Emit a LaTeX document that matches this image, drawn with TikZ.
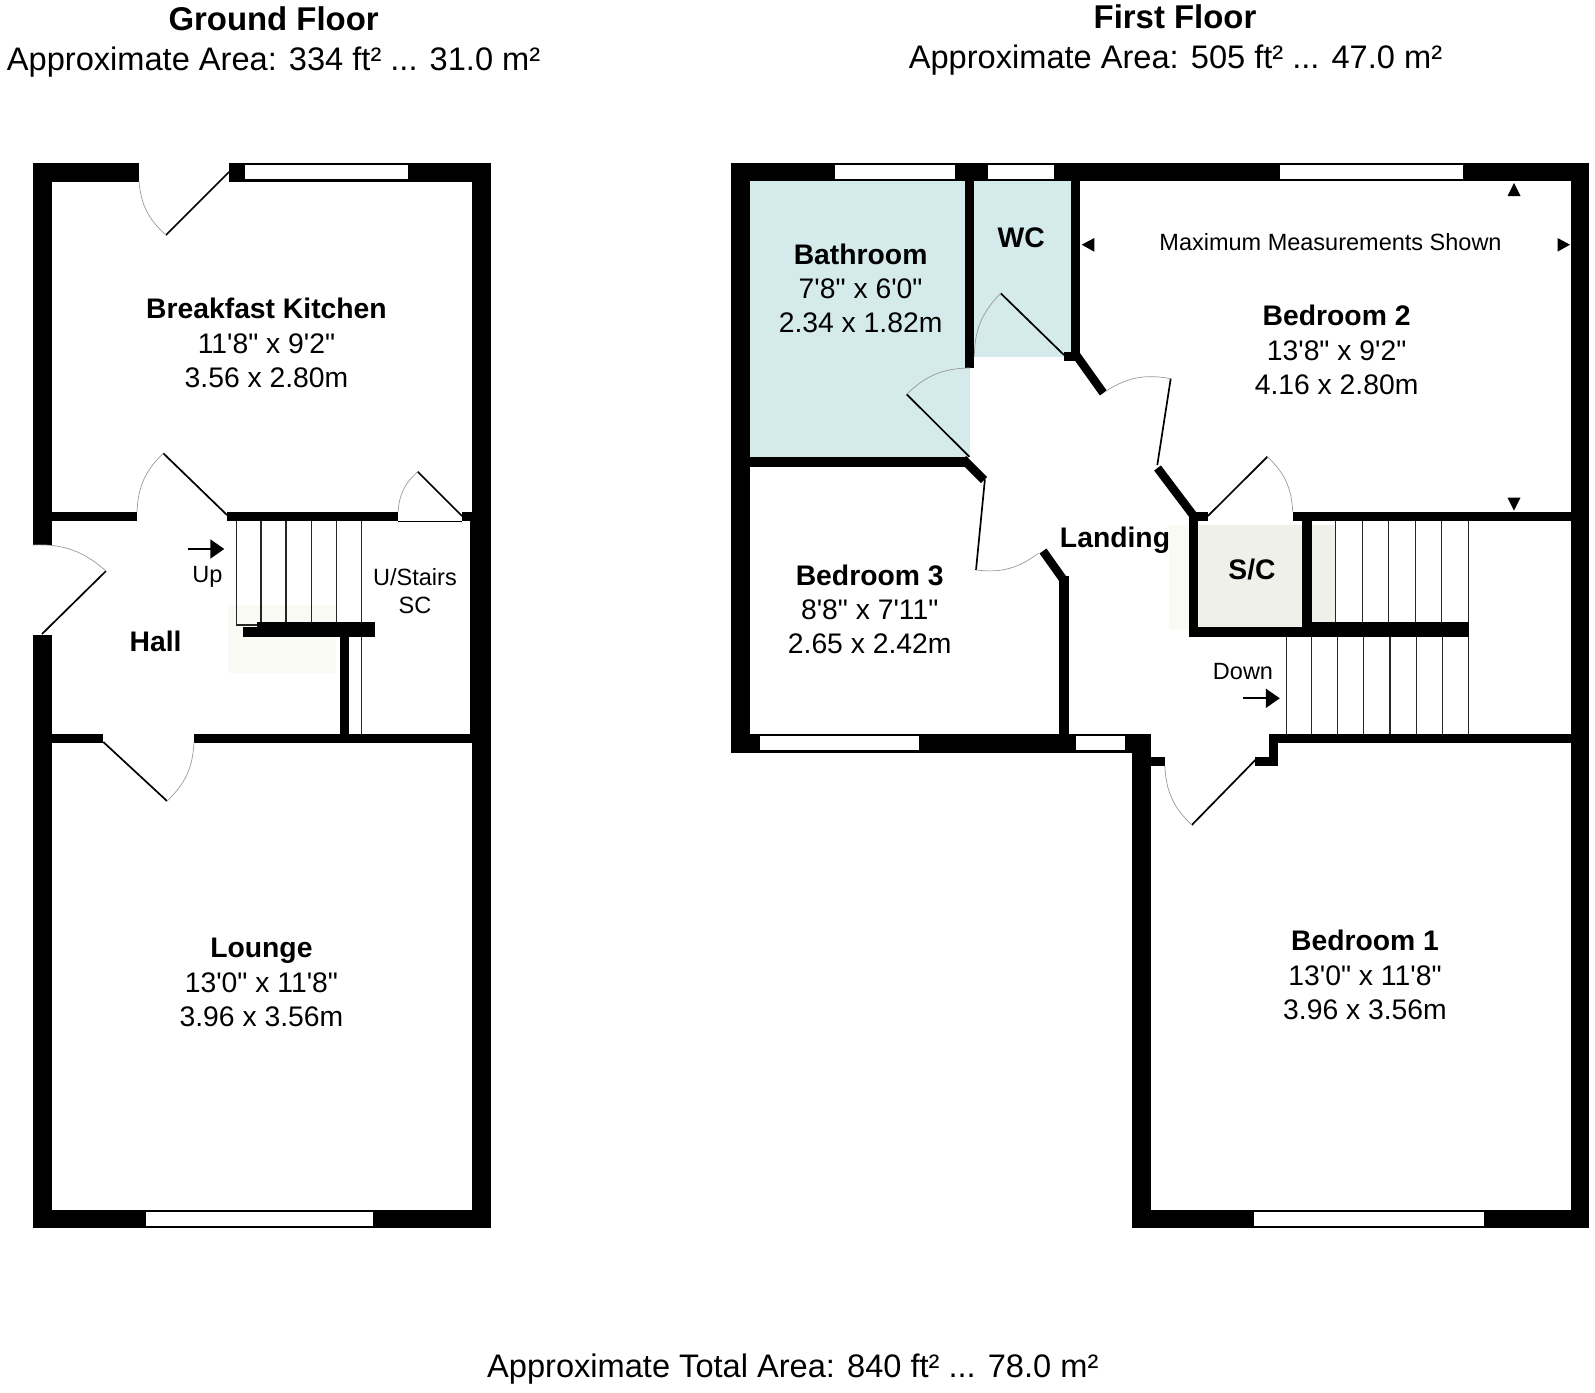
\documentclass[tikz,border=0pt]{standalone}
\usepackage{fontspec}
\newfontfamily\planfont{Liberation Sans}
\usetikzlibrary{arrows.meta}
\definecolor{bathblue}{HTML}{D4EAEB}
\definecolor{markpale}{HTML}{FAFAF5}
\definecolor{markgrey}{HTML}{F0F0EB}
\tikzset{x=1pt,y=-1pt,
  wall/.style = {fill=black},
  window/.style = {fill=white},
  diagwall/.style = {draw=black,line width=8.5pt},
  leaf/.style = {draw=black,line width=1.7pt},
  swing/.style = {draw=gray!80,line width=0.7pt},
  tread/.style = {draw=black!85,line width=1.3pt},
  flow/.style = {draw=black,line width=2pt,-{Triangle[length=14pt,width=19pt]}},
  title/.style = {font=\planfont\bfseries\fontsize{32.9}{38}\selectfont},
  areatext/.style = {font=\planfont\fontsize{32.6}{38}\selectfont},
  room/.style = {font=\planfont\fontsize{28.3}{34.3}\selectfont,align=center},
  note/.style = {font=\planfont\fontsize{23.5}{28}\selectfont,align=center}}
\begin{document}
\begin{tikzpicture}
\useasboundingbox (0,0) rectangle (1595,1392);
% pale patches
\fill[markpale] (228,605) rectangle (336,673);
\fill[markpale] (1169,525) rectangle (1198,630);
\fill[markgrey] (1198,525) rectangle (1336,627);
% bathroom and wc
\fill[bathblue] (750,181) rectangle (970,457);
\fill[bathblue] (974,181) rectangle (1071,357);
% ground floor walls
\fill[wall] (33,163) rectangle (52,545);
\fill[wall] (33,635) rectangle (52,1228);
\fill[wall] (33,163) rectangle (139,181.5);
\fill[wall] (229,163) rectangle (491,181.5);
\fill[wall] (472,163) rectangle (491,1228);
\fill[wall] (470,521) rectangle (472,733.7);
\fill[wall] (33,1209.5) rectangle (491,1228);
\fill[wall] (52,512) rectangle (137,521);
\fill[wall] (227,512) rectangle (398,521);
\fill[wall] (462,512) rectangle (472,521);
\draw[line width=1pt] (398,521) -- (462,521);
\fill[wall] (52,733.7) rectangle (103.3,742.7);
\fill[wall] (194,733.7) rectangle (472,742.7);
\fill[wall] (257.3,621.7) rectangle (375,636.7);
\fill[wall] (242.7,627.3) rectangle (257.3,636.7);
\fill[wall] (340,636.7) rectangle (349.3,733.7);
% ground floor windows
\fill[window] (245,165) rectangle (408,179.3);
\fill[window] (145.5,1211.5) rectangle (373.3,1225.7);
% ground floor stairs
\draw[tread] (257.3,625) -- (236.7,625) -- (236.7,521);
\draw[tread] (261,521) -- (261,622) (286,521) -- (286,622) (311.3,521) -- (311.3,622);
\draw[tread] (336.7,521) -- (336.7,622) (361.3,521) -- (361.3,622) (361.3,636.7) -- (361.3,733.7);
% ground floor doors
\draw[leaf] (229,172) -- (166,235);
\draw[swing] (139,181) to[bend right=22] (166,235);
\draw[leaf] (42,634) -- (106,571);
\draw[swing] (33,545) to[bend left=22] (106,571);
\draw[leaf] (227,515) -- (163.3,453.3);
\draw[swing] (137,512) to[bend left=22] (163.3,453.3);
\draw[leaf] (462,516) -- (417.7,471.7);
\draw[swing] (398,512) to[bend left=22] (417.7,471.7);
\draw[leaf] (103.3,742) -- (167,801);
\draw[swing] (194,742) to[bend left=22] (167,801);
% first floor walls
\fill[wall] (731,163) rectangle (1589,181.3);
\fill[wall] (731,163) rectangle (750,752.7);
\fill[wall] (731,733.7) rectangle (1151,752.7);
\fill[wall] (1132,733.7) rectangle (1151,1228);
\fill[wall] (1132,1209.5) rectangle (1589,1228);
\fill[wall] (1571,163) rectangle (1589,1228);
\fill[wall] (965,181) rectangle (974.3,367.7);
\fill[wall] (1071,181) rectangle (1080.3,355);
\fill[wall] (1064,351.7) rectangle (1080.3,360.7);
\fill[wall] (750,457.3) rectangle (968,466.7);
\fill[wall] (1058.8,576) rectangle (1068.5,733.7);
\fill[wall] (1189,511.7) rectangle (1207.5,521);
\fill[wall] (1189,511.7) rectangle (1198.2,636.7);
\fill[wall] (1189,627.3) rectangle (1302,636.7);
\fill[wall] (1302,521) rectangle (1311.6,636.7);
\fill[wall] (1302,621.7) rectangle (1469,636.7);
\fill[wall] (1292.7,511.7) rectangle (1571,521);
\fill[wall] (1269.4,733.7) rectangle (1571,742.7);
\fill[wall] (1269.4,733.7) rectangle (1278.2,766);
\fill[wall] (1255.3,757.3) rectangle (1278.2,766);
\fill[wall] (1151,757.3) rectangle (1164.9,766);
\draw[diagwall] (1074,352) -- (1103.3,393);
\draw[diagwall] (963,459) -- (984,480);
\draw[diagwall] (1157.5,468) -- (1193,515);
\draw[diagwall] (1063.6,580) -- (1043,551);
% first floor windows
\fill[window] (835,165) rectangle (955.3,179.3);
\fill[window] (988.3,165) rectangle (1054.3,179.3);
\fill[window] (1279.7,165) rectangle (1462.8,179.3);
\fill[window] (760,735.7) rectangle (918.6,750);
\fill[window] (1075.7,735.7) rectangle (1125,750);
\fill[window] (1254.3,1211.5) rectangle (1484,1225.7);
% first floor stairs
\draw[tread] (1335.7,521) -- (1335.7,622) (1362.2,521) -- (1362.2,622) (1388.7,521) -- (1388.7,622);
\draw[tread] (1415.2,521) -- (1415.2,622) (1441.7,521) -- (1441.7,622) (1468.6,521) -- (1468.6,622);
\draw[tread] (1286.6,636.7) -- (1286.6,734) (1311.6,636.7) -- (1311.6,734) (1337.7,636.7) -- (1337.7,734) (1363.8,636.7) -- (1363.8,734);
\draw[tread] (1389.9,636.7) -- (1389.9,734) (1416.4,636.7) -- (1416.4,734) (1442.5,636.7) -- (1442.5,734) (1468.6,636.7) -- (1468.6,734);
% first floor doors
\draw[leaf] (969.3,456.7) -- (906.7,394.3);
\draw[swing] (906.7,394.3) to[bend left=22] (970,368);
\draw[leaf] (1064,355) -- (1000.7,293.3);
\draw[swing] (1000.7,293.3) to[bend right=22] (974.3,356.7);
\draw[leaf] (1170.7,378.7) -- (1157.3,465);
\draw[swing] (1105,391.7) to[bend left=22] (1170.7,378.7);
\draw[leaf] (984.9,479.3) -- (976,570);
\draw[swing] (976,570) to[bend right=22] (1038.3,553.3);
\draw[leaf] (1207.9,516) -- (1267.4,456.7);
\draw[swing] (1267.4,456.7) to[bend left=22] (1292.7,511.7);
\draw[leaf] (1255.3,760) -- (1191.8,825);
\draw[swing] (1191.8,825) to[bend left=22] (1164.9,766);
% measurement marks
\fill (1514,183) -- (1520.5,196) -- (1507.5,196) -- cycle;
\fill (1514,510.7) -- (1520.5,497.7) -- (1507.5,497.7) -- cycle;
\fill (1081.7,244.7) -- (1094.3,238) -- (1094.3,251.7) -- cycle;
\fill (1570,244.7) -- (1557.5,238) -- (1557.5,251.7) -- cycle;
% stair arrows
\coordinate (upstart) at (187.7,549);
\coordinate (upend) at (224.3,549);
\draw[flow] (upstart) -- (upend);
\coordinate (downstart) at (1243.2,698.3);
\coordinate (downend) at (1279.8,698.3);
\draw[flow] (downstart) -- (downend);
% headings
\node[title] (groundtitle) at (273.6,18.8) {Ground Floor};
\node[areatext] (groundarea) at (273.6,62.5) {Approximate Area: 334 ft² ... 31.0 m²};
\node[title] (firsttitle) at (1175,16.8) {First Floor};
\node[areatext] (firstarea) at (1175.5,60.5) {Approximate Area: 505 ft² ... 47.0 m²};
\node[areatext] (totalarea) at (792.8,1369) {Approximate Total Area: 840 ft² ... 78.0 m²};
% rooms
\node[room] (kitchen) at (266.5,343) {\textbf{Breakfast Kitchen}\\11'8" x 9'2"\\3.56 x 2.80m};
\node[room] (lounge) at (261.4,982.5) {\textbf{Lounge}\\13'0" x 11'8"\\3.96 x 3.56m};
\node[room] (hall) at (155.6,641) {\textbf{Hall}};
\node[note] (understairs) at (415,591) {U/Stairs\\SC};
\node[note] (upnote) at (207.5,577) {Up};
\node[room] (bathroom) at (860.6,288.5) {\textbf{Bathroom}\\7'8" x 6'0"\\2.34 x 1.82m};
\node[room] (wc) at (1021.3,237.5) {\textbf{WC}};
\node[room] (bedtwo) at (1336.6,350) {\textbf{Bedroom 2}\\13'8" x 9'2"\\4.16 x 2.80m};
\node[room] (bedthree) at (869.7,609.5) {\textbf{Bedroom 3}\\8'8" x 7'11"\\2.65 x 2.42m};
\node[room] (bedone) at (1365,975) {\textbf{Bedroom 1}\\13'0" x 11'8"\\3.96 x 3.56m};
\node[room] (landing) at (1115,540) {\textbf{Landing}};
\node[room] (sc) at (1252,570) {\textbf{S/C}};
\node[note] (downnote) at (1243,672) {Down};
\node[note] (maxnote) at (1330.5,242) {Maximum Measurements Shown};
\end{tikzpicture}
\end{document}
